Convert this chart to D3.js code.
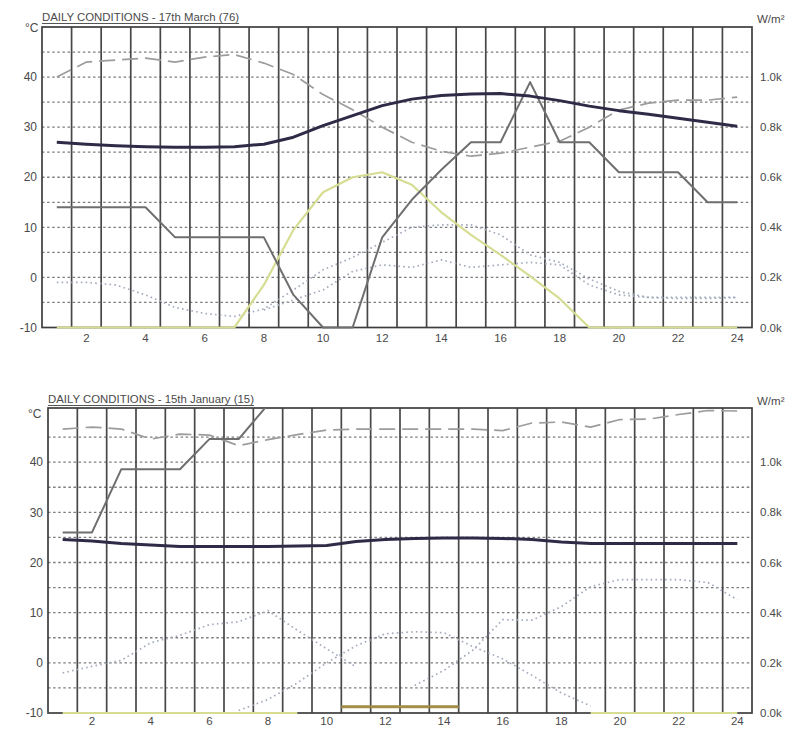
<!DOCTYPE html>
<html><head><meta charset="utf-8">
<script src="https://cdn.jsdelivr.net/npm/d3@7"></script>
<style>
body{margin:0;background:#fff}
svg{display:block}
text{font-family:"Liberation Sans",Arial,sans-serif;fill:#4a4a4a}
</style>
</head><body>
<svg id="c" width="787" height="729"></svg>
<script>
// ---------- DATA ----------
const hours = [1,2,3,4,5,6,7,8,9,10,11,12,13,14,15,16,17,18,19,20,21,22,23,24];
const hourTicks = [2,4,6,8,10,12,14,16,18,20,22,24];
const tempTicks = [-10,0,10,20,30,40];
const gridTemps = [-5,0,5,10,15,20,25,30,35,40,45];
const solarTicks = [0,200,400,600,800,1000];

// 17th March (76)
const marchOutdoor = [27,26.6,26.3,26.1,26,26,26.1,26.6,28,30.3,32.3,34.3,35.6,36.3,36.6,36.7,36.2,35.3,34.2,33.3,32.6,31.8,31,30.2];
const marchDashed  = [40,43,43.4,43.8,43,44,44.5,42.8,40.5,36.5,33.5,30,27,25.2,24.2,24.8,26,27.2,30,33.4,34.8,35.4,35.4,36];
const marchStep    = [14,14,14,14,8,8,8,8,-3.5,-10,-10,8,15.5,21.5,27,27,39,27,27,21,21,21,15,15];
const marchSolar   = [0,0,0,0,0,0,0,170,390,540,600,620,570,460,370,290,205,115,0,0,0,0,0,0];
const marchDotA    = [-1,-1,-1.5,-3.5,-6,-7.2,-7.8,-6.3,-2.5,1.5,4,7,10,10.5,10.5,8.5,4.5,3,-0.3,-2.8,-4,-4,-4,-4];
const marchDotB    = [null,null,null,null,null,null,null,-6.5,-4.5,-2.5,1.2,2.5,2,3.5,2,2.5,3,2.5,-1.5,-3.5,-4,-4.2,-4.2,-4];

// 15th January (15)
const janOutdoor = [24.6,24.3,23.8,23.5,23.2,23.2,23.2,23.2,23.3,23.4,24.2,24.6,24.8,24.9,24.9,24.8,24.6,24.1,23.8,23.8,23.8,23.8,23.8,23.8];
const janDashed  = [46.6,47,46.6,44.6,45.6,45.4,43.3,44.5,45.5,46.4,46.6,46.6,46.6,46.6,46.6,46.3,47.8,48,47,48.5,48.6,49.5,50.3,50.2];
const janStep    = [26,26,38.6,38.6,38.6,44.6,44.6,51.5,null,null,null,null,null,null,null,null,null,null,null,null,null,null,null,null];
const janSolar   = [0,0,0,0,0,0,0,0,0,null,null,null,null,null,null,null,null,null,0,0,0,0,0,0];
const janGain    = [null,null,null,null,null,null,null,null,null,null,25,25,25,25,null,null,null,null,null,null,null,null,null,null];
const janDotA    = [-2,-0.7,0.5,4,5.5,7.6,8.2,10.4,6.5,2.8,-0.8,null,null,null,null,null,null,null,null,null,null,null,null,null];
const janDotB    = [null,null,null,null,null,null,-9.5,-7.3,-4,0,3.4,5.8,6.2,6,3.2,0.8,-2.5,-6,-8.6,null,null,null,null,null];
const janDotC    = [null,null,null,null,null,null,null,null,null,null,null,null,-4.5,-1.5,2.6,8.6,8.5,11.2,15.2,16.6,16.6,16.6,16,12.6];

// ---------- CHART ----------
const svg = d3.select("#c");

const charts = [
  {id:"m", title:"DAILY CONDITIONS - 17th March (76)", left:42, right:752, top:27, bottom:327.5, yTop:50,
   degX:25, degY:32, titleY:21, unitY:23, labelY:14.5,
   temps:[
     {data:marchDotA, cls:"dot"}, {data:marchDotB, cls:"dot"},
     {data:marchDashed, cls:"dash"}, {data:marchStep, cls:"step"}, {data:marchOutdoor, cls:"out"}],
   solar:[{data:marchSolar, cls:"sun"}], gain:null},
  {id:"j", title:"DAILY CONDITIONS - 15th January (15)", left:48, right:752, top:408, bottom:713, yTop:50.8,
   degX:28, degY:418, titleY:403, unitY:405, labelY:12,
   temps:[
     {data:janDotA, cls:"dot"}, {data:janDotB, cls:"dot"}, {data:janDotC, cls:"dot"},
     {data:janDashed, cls:"dash"}, {data:janStep, cls:"step"}, {data:janOutdoor, cls:"out"}],
   solar:[{data:janSolar, cls:"sun"}], gain:janGain}
];

const styles = {
  dot:  {stroke:"#a3abbd", width:1.7, dash:"1.6,3.2"},
  dash: {stroke:"#9c9c9c", width:1.7, dash:"16,7"},
  step: {stroke:"#6f6f6f", width:2},
  out:  {stroke:"#2f2b47", width:3},
  sun:  {stroke:"#d6dd92", width:2.2}
};

charts.forEach(cfg => {
  const g = svg.append("g");
  const x = d3.scaleLinear().domain([0.5, 24.5]).range([cfg.left, cfg.right]);
  const y = d3.scaleLinear().domain([-10, cfg.yTop]).range([cfg.bottom, cfg.top]);
  const yS = d3.scaleLinear().domain([0, 1000]).range([y(-10), y(40)]);

  // clip
  const clipId = "clip-" + cfg.id;
  svg.append("defs").append("clipPath").attr("id", clipId)
    .append("rect").attr("x", cfg.left - 2).attr("y", cfg.top)
    .attr("width", cfg.right - cfg.left + 4).attr("height", cfg.bottom - cfg.top + 2);

  // horizontal dotted grid
  g.append("g").selectAll("line").data(gridTemps).join("line")
    .attr("x1", cfg.left).attr("x2", cfg.right)
    .attr("y1", d => y(d)).attr("y2", d => y(d))
    .attr("stroke", "#7d7d7d").attr("stroke-width", 1.3).attr("stroke-dasharray", "2.5,2.6");

  // vertical grid at hour boundaries
  const bounds = hours.slice(0, 23).map(h => h + 0.5);
  g.append("g").selectAll("line").data(bounds).join("line")
    .attr("x1", d => x(d)).attr("x2", d => x(d))
    .attr("y1", cfg.top).attr("y2", cfg.bottom)
    .attr("stroke", "#474747").attr("stroke-width", 1.7);

  // frame
  g.append("rect").attr("x", cfg.left).attr("y", cfg.top)
    .attr("width", cfg.right - cfg.left).attr("height", cfg.bottom - cfg.top)
    .attr("fill", "none").attr("stroke", "#3e3e3e").attr("stroke-width", 1.7);

  // left axis labels
  g.append("g").selectAll("text").data(tempTicks).join("text")
    .attr("x", cfg.left - 5).attr("y", d => y(d)).attr("dy", "0.35em")
    .attr("text-anchor", "end").attr("font-size", 12).text(d => d);
  // right axis labels
  g.append("g").selectAll("text").data(solarTicks).join("text")
    .attr("x", cfg.right + 8).attr("y", d => yS(d)).attr("dy", "0.35em")
    .attr("text-anchor", "start").attr("font-size", 11.5).text(d => d3.format(".1f")(d / 1000) + "k");
  // x labels
  g.append("g").selectAll("text").data(hourTicks).join("text")
    .attr("x", d => x(d)).attr("y", cfg.bottom + cfg.labelY)
    .attr("text-anchor", "middle").attr("font-size", 11.5).text(d => d);

  // units + title
  g.append("text").attr("x", cfg.degX).attr("y", cfg.degY).attr("font-size", 12).text("°C");
  g.append("text").attr("x", cfg.right + 5).attr("y", cfg.unitY).attr("font-size", 11.5).text("W/m²");
  const t = g.append("text").attr("x", cfg.left).attr("y", cfg.titleY)
    .attr("font-size", 11.4).attr("fill", "#444").text(cfg.title);
  const tw = t.node().getComputedTextLength();
  g.append("line").attr("x1", cfg.left).attr("x2", cfg.left + tw)
    .attr("y1", cfg.titleY + 2.5).attr("y2", cfg.titleY + 2.5)
    .attr("stroke", "#555").attr("stroke-width", 1);

  const series = g.append("g").attr("clip-path", `url(#${clipId})`);

  const lineT = d3.line().defined(d => d[1] != null).x(d => x(d[0])).y(d => y(d[1]));
  const lineS = d3.line().defined(d => d[1] != null).x(d => x(d[0])).y(d => yS(d[1]));

  const drawSeries = (list, gen) => list.forEach(s => {
    const st = styles[s.cls];
    series.append("path").datum(hours.map((h, i) => [h, s.data[i]]))
      .attr("d", gen).attr("fill", "none")
      .attr("stroke", st.stroke).attr("stroke-width", st.width)
      .attr("stroke-dasharray", st.dash || null)
      .attr("stroke-linejoin", "round");
  });

  // order: dotted, dashed, solar, step, outdoor
  drawSeries(cfg.temps.filter(s => s.cls === "dot"), lineT);
  drawSeries(cfg.temps.filter(s => s.cls === "dash"), lineT);
  drawSeries(cfg.solar, lineS);
  drawSeries(cfg.temps.filter(s => s.cls === "step"), lineT);
  drawSeries(cfg.temps.filter(s => s.cls === "out"), lineT);

  if (cfg.gain) {
    const gd = hours.map((h, i) => [h, cfg.gain[i]]).filter(d => d[1] != null);
    series.append("g").selectAll("line").data(gd).join("line")
      .attr("x1", d => x(d[0] - 0.5)).attr("x2", d => x(d[0] + 0.5))
      .attr("y1", d => yS(d[1])).attr("y2", d => yS(d[1]))
      .attr("stroke", "#a38d47").attr("stroke-width", 3);
  }
});
</script>
</body></html>
